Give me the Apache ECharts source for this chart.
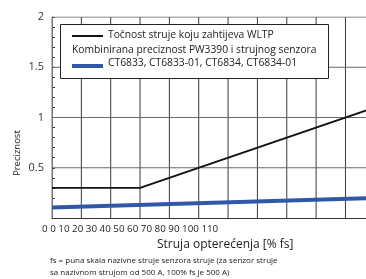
<!DOCTYPE html>
<html>
<head>
<meta charset="utf-8">
<script src="https://cdn.jsdelivr.net/npm/echarts@6/dist/echarts.min.js"></script>
<style>
  html, body { margin: 0; padding: 0; background: #fff; }
  #chart { width: 366px; height: 279px; }
</style>
</head>
<body>
<div id="chart"></div>
<script>
// podaci očitani sa slike
const seriesNames = ['Točnost struje koju zahtijeva WLTP', 'Kombinirana preciznost PW3390 i strujnog senzora'];
const sensorModels = 'CT6833, CT6833-01, CT6834, CT6834-01';
const xTickLabels = ['0', '0', '10', '20', '30', '40', '50', '60', '70', '80', '90', '100', '110'];
const xGridValues = [0, 10, 20, 30, 40, 50, 60, 70, 80, 90, 100];
const yGridValues = [0.5, 1, 1.5, 2];
const wltpData = [[0, 0.3], [30, 0.3], [110, 1.1]];
const sensorData = [[0, 0.105], [110, 0.2]];

const font = '"Open Sans", "Noto Sans", sans-serif';
const blue = '#2f58a8';
const xMax = 107;
const yMax = 2;

const chart = echarts.init(document.getElementById('chart'));

// mreža kao obične linije kroz skale osi
const gridSeries = xGridValues.map(v => ({
  type: 'line', silent: true, symbol: 'none', z: 1,
  data: [[v, 0], [v, yMax]],
  lineStyle: { color: v === 0 ? '#777' : '#3a3a3a', width: 1 }
})).concat(yGridValues.map(v => ({
  type: 'line', silent: true, symbol: 'none', z: 1,
  data: [[0, v], [xMax, v]],
  lineStyle: { color: '#6a6a6a', width: 1 }
})));

const option = {
  animation: false,
  grid: { left: 52, width: 314, top: 17, height: 201 },
  xAxis: {
    type: 'value',
    min: 0,
    max: xMax,
    interval: 10,
    axisLine: { show: true, lineStyle: { color: '#333', width: 1 } },
    axisTick: { show: false },
    axisLabel: { show: false },
    splitLine: { show: false }
  },
  yAxis: {
    type: 'value',
    min: 0,
    max: yMax,
    interval: 0.5,
    axisLine: { show: true, lineStyle: { color: '#777', width: 1 } },
    axisTick: { show: true, inside: true, length: 3, lineStyle: { color: '#333' } },
    minorTick: { show: true, splitNumber: 5, length: 3, lineStyle: { color: '#333' } },
    axisLabel: { color: '#333', fontSize: 11, fontFamily: font, margin: 8, showMinLabel: false },
    splitLine: { show: false }
  },
  series: gridSeries.concat([
    {
      name: seriesNames[0],
      type: 'line',
      data: wltpData,
      symbol: 'none',
      z: 3,
      lineStyle: { color: '#111', width: 1.9 }
    },
    {
      name: seriesNames[1],
      type: 'line',
      data: sensorData,
      symbol: 'none',
      z: 3,
      lineStyle: { color: blue, width: 4 }
    }
  ]),
  graphic: [
    // legenda
    {
      type: 'rect', left: 60, top: 24, z: 10,
      shape: { width: 268, height: 54 },
      style: { fill: '#fff', stroke: '#222', lineWidth: 1 }
    },
    {
      type: 'line', z: 11,
      shape: { x1: 72, y1: 36, x2: 103, y2: 36 },
      style: { stroke: '#111', lineWidth: 2 }
    },
    {
      type: 'text', left: 108, top: 30, z: 11,
      style: { text: seriesNames[0], fontSize: 10.3, fontFamily: font, fill: '#222' }
    },
    {
      type: 'text', left: 72, top: 45, z: 11,
      style: { text: seriesNames[1], fontSize: 10.3, fontFamily: font, fill: '#222' }
    },
    {
      type: 'line', z: 11,
      shape: { x1: 72, y1: 66, x2: 103, y2: 66 },
      style: { stroke: blue, lineWidth: 4 }
    },
    {
      type: 'text', left: 108, top: 58, z: 11,
      style: { text: sensorModels, fontSize: 10.3, fontFamily: font, fill: '#222' }
    },
    // oznake x osi
    {
      type: 'text', left: 42, top: 224,
      style: { text: xTickLabels.join(' '), fontSize: 9.8, fontFamily: font, fill: '#222' }
    },
    {
      type: 'text', left: 157, top: 239,
      style: { text: 'Struja opterećenja [% fs]', fontSize: 12, fontFamily: font, fill: '#222' }
    },
    {
      type: 'text', left: 50, top: 255,
      style: {
        text: 'fs = puna skala nazivne struje senzora struje (za senzor struje\nsa nazivnom strujom od 500 A, 100% fs je 500 A)',
        fontSize: 8, lineHeight: 12, fontFamily: font, fill: '#222'
      }
    },
    {
      type: 'text', x: 12, y: 176, rotation: Math.PI / 2,
      style: { text: 'Preciznost', fontSize: 9.5, fontFamily: font, fill: '#222' }
    }
  ]
};

chart.setOption(option);
</script>
</body>
</html>
